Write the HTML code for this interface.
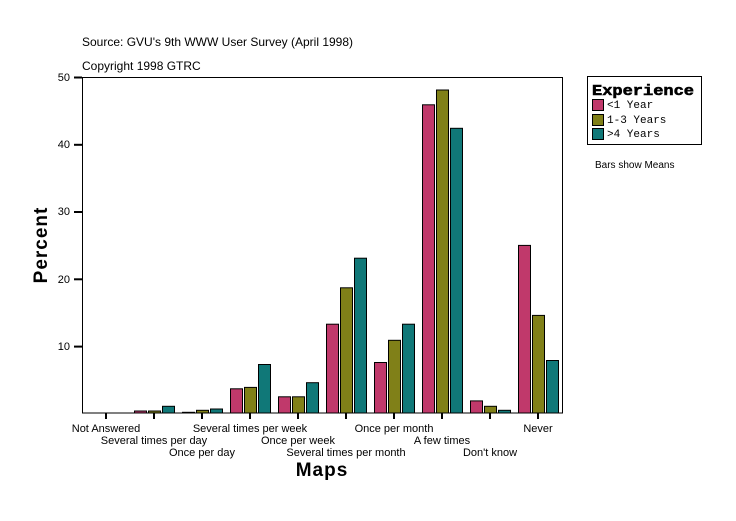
<!DOCTYPE html>
<html><head><style>body{margin:0;background:#fff}</style></head><body>
<svg width="736" height="516" xmlns="http://www.w3.org/2000/svg" font-family="Liberation Sans, sans-serif">
<rect width="736" height="516" fill="#fff"/>
<text x="82" y="46" font-size="12">Source: GVU's 9th WWW User Survey (April 1998)</text>
<text x="82" y="70" font-size="12">Copyright 1998 GTRC</text>
<rect x="82.5" y="77.5" width="480" height="335.5" fill="none" stroke="#000" stroke-width="1"/>
<g font-size="11" text-anchor="end">
<text x="70" y="81">50</text><text x="70" y="148">40</text><text x="70" y="215">30</text><text x="70" y="283">20</text><text x="70" y="350">10</text>
</g>
<g stroke="#000" stroke-width="2">
<line x1="74" y1="77.5" x2="82" y2="77.5"/><line x1="74" y1="144.8" x2="82" y2="144.8"/><line x1="74" y1="212" x2="82" y2="212"/><line x1="74" y1="279.3" x2="82" y2="279.3"/><line x1="74" y1="346.6" x2="82" y2="346.6"/>
</g>
<text transform="translate(47,245) rotate(-90)" font-size="19" font-weight="bold" text-anchor="middle" letter-spacing="1">Percent</text>
<g stroke="#000" stroke-width="1">
<rect x="134.5" y="411" width="12" height="2" fill="#c0396b"/><rect x="148.5" y="411" width="12" height="2" fill="#808018"/><rect x="162.5" y="406.3" width="12" height="6.7" fill="#107878"/>
<rect x="182.5" y="412.3" width="12" height="0.7" fill="#c0396b"/><rect x="196.5" y="410.3" width="12" height="2.7" fill="#808018"/><rect x="210.5" y="409" width="12" height="4" fill="#107878"/>
<rect x="230.5" y="388.8" width="12" height="24.2" fill="#c0396b"/><rect x="244.5" y="387.4" width="12" height="25.6" fill="#808018"/><rect x="258.5" y="364.5" width="12" height="48.5" fill="#107878"/>
<rect x="278.5" y="396.8" width="12" height="16.2" fill="#c0396b"/><rect x="292.5" y="396.8" width="12" height="16.2" fill="#808018"/><rect x="306.5" y="382.7" width="12" height="30.3" fill="#107878"/>
<rect x="326.5" y="324.2" width="12" height="88.8" fill="#c0396b"/><rect x="340.5" y="287.8" width="12" height="125.2" fill="#808018"/><rect x="354.5" y="258.2" width="12" height="154.8" fill="#107878"/>
<rect x="374.5" y="362.5" width="12" height="50.5" fill="#c0396b"/><rect x="388.5" y="340.3" width="12" height="72.7" fill="#808018"/><rect x="402.5" y="324.2" width="12" height="88.8" fill="#107878"/>
<rect x="422.5" y="104.8" width="12" height="308.2" fill="#c0396b"/><rect x="436.5" y="90" width="12" height="323" fill="#808018"/><rect x="450.5" y="128.3" width="12" height="284.7" fill="#107878"/>
<rect x="470.5" y="400.9" width="12" height="12.1" fill="#c0396b"/><rect x="484.5" y="406.3" width="12" height="6.7" fill="#808018"/><rect x="498.5" y="410.3" width="12" height="2.7" fill="#107878"/>
<rect x="518.5" y="245.4" width="12" height="167.6" fill="#c0396b"/><rect x="532.5" y="315.4" width="12" height="97.6" fill="#808018"/><rect x="546.5" y="360.5" width="12" height="52.5" fill="#107878"/>
</g>
<g stroke="#000" stroke-width="2">
<line x1="106" y1="413" x2="106" y2="419"/><line x1="154" y1="413" x2="154" y2="419"/><line x1="202" y1="413" x2="202" y2="419"/><line x1="250" y1="413" x2="250" y2="419"/><line x1="298" y1="413" x2="298" y2="419"/><line x1="346" y1="413" x2="346" y2="419"/><line x1="394" y1="413" x2="394" y2="419"/><line x1="442" y1="413" x2="442" y2="419"/><line x1="490" y1="413" x2="490" y2="419"/><line x1="538" y1="413" x2="538" y2="419"/>
</g>
<g font-size="11" text-anchor="middle">
<text x="106" y="432">Not Answered</text>
<text x="154" y="444">Several times per day</text>
<text x="202" y="456">Once per day</text>
<text x="250" y="432">Several times per week</text>
<text x="298" y="444">Once per week</text>
<text x="346" y="456">Several times per month</text>
<text x="394" y="432">Once per month</text>
<text x="442" y="444">A few times</text>
<text x="490" y="456">Don't know</text>
<text x="538" y="432">Never</text>
</g>
<text x="322" y="476" font-size="19" font-weight="bold" text-anchor="middle" letter-spacing="1">Maps</text>
<rect x="587.5" y="76.5" width="114" height="68" fill="#fff" stroke="#000"/>
<text x="592" y="95" font-family="Liberation Mono, monospace" font-size="15" font-weight="bold" stroke="#000" stroke-width="0.6" textLength="102" lengthAdjust="spacingAndGlyphs">Experience</text>
<g font-family="Liberation Mono, monospace" font-size="11">
<rect x="592.5" y="99.5" width="11" height="11" fill="#c0396b" stroke="#000"/><text x="607" y="108">&lt;1 Year</text>
<rect x="592.5" y="114.5" width="11" height="11" fill="#808018" stroke="#000"/><text x="607" y="123">1-3 Years</text>
<rect x="592.5" y="128.5" width="11" height="11" fill="#107878" stroke="#000"/><text x="607" y="137">&gt;4 Years</text>
</g>
<text x="595" y="168" font-size="10">Bars show Means</text>
</svg>
</body></html>
